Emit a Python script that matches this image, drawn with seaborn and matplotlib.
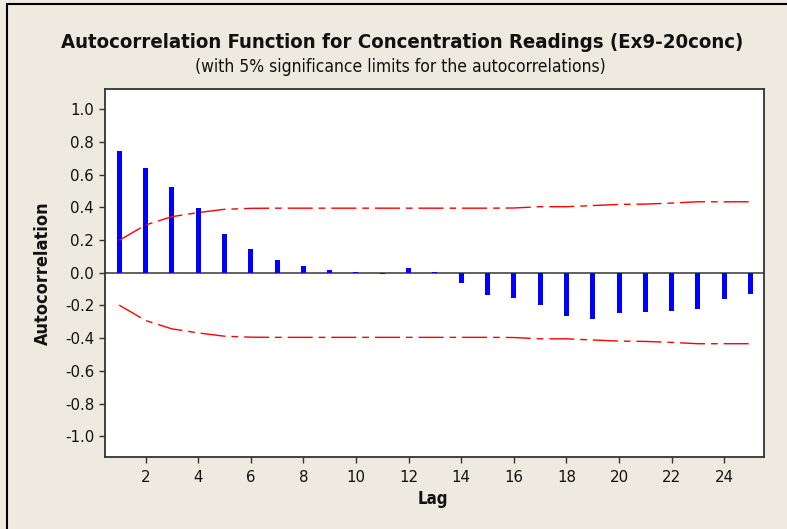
import numpy as np
import pandas as pd
import matplotlib
matplotlib.use("Agg")
import matplotlib.pyplot as plt
import matplotlib.patches as mpatches
import seaborn as sns

# ---- data ----
lags = list(range(1, 26))
acf_values = [0.746, 0.639, 0.522, 0.396, 0.235, 0.143, 0.076, 0.043, 0.017, 0.005,
              -0.010, 0.027, 0.005, -0.063, -0.138, -0.157, -0.200, -0.265, -0.281,
              -0.248, -0.240, -0.232, -0.222, -0.163, -0.130]
upper_limits = [0.198, 0.292, 0.343, 0.368, 0.388, 0.394, 0.395, 0.395, 0.395, 0.395,
                0.395, 0.395, 0.395, 0.395, 0.395, 0.396, 0.404, 0.404, 0.411, 0.418,
                0.420, 0.426, 0.434, 0.434, 0.434]
lower_limits = [-v for v in upper_limits]
y_ticks = [-1.0, -0.8, -0.6, -0.4, -0.2, 0.0, 0.2, 0.4, 0.6, 0.8, 1.0]
x_ticks = [2, 4, 6, 8, 10, 12, 14, 16, 18, 20, 22, 24]

title = "Autocorrelation Function for Concentration Readings (Ex9-20conc)"
subtitle = "(with 5% significance limits for the autocorrelations)"

df = pd.DataFrame({"Lag": lags, "ACF": acf_values})
lim_df = pd.DataFrame({"Lag": lags, "upper": upper_limits, "lower": lower_limits})

sns.set_theme(style="white")
plt.rcParams['font.family'] = ['DejaVu Sans']

BG = "#EEEAE0"
W, H = 787, 529
fig = plt.figure(figsize=(W / 100, H / 100), dpi=100, facecolor=BG)
ax = fig.add_axes([105.3 / W, 1 - 456.7 / H, (763.7 - 105.3) / W, (456.7 - 89.3) / H])
ax.set_facecolor("white")

ax.axhline(0, color="#606060", lw=1.4, zorder=1)

sns.barplot(data=df, x="Lag", y="ACF", native_scale=True, orient="x",
            width=0.19, color="#0000FF", saturation=1, edgecolor="none",
            linewidth=0, ax=ax, zorder=2)

dash = (0, (18, 4.3, 4.8, 4.3))
sns.lineplot(data=lim_df, x="Lag", y="upper", color="#FF0000", lw=1.0,
             linestyle=dash, ax=ax, errorbar=None, zorder=3)
sns.lineplot(data=lim_df, x="Lag", y="lower", color="#FF0000", lw=1.0,
             linestyle=dash, ax=ax, errorbar=None, zorder=3)

ax.set_xlim(0.47, 25.5)
ax.set_ylim(-1.125, 1.122)
ax.set_xticks(x_ticks)
ax.set_xticklabels([str(t) for t in x_ticks])
ax.set_yticks(y_ticks)
ax.set_yticklabels([f"{t:.1f}" for t in y_ticks])
ax.tick_params(axis="both", which="major", direction="out", length=4.5, width=1.0,
               color="#333333", labelsize=10.8, labelcolor="#111111",
               left=True, bottom=True)
ax.tick_params(axis="y", pad=3.5)
ax.tick_params(axis="x", pad=5)
for s in ax.spines.values():
    s.set_color("#333333")
    s.set_linewidth(1.3)
ax.set_xlabel("")
ax.set_ylabel("")

t1 = fig.text(402 / W, 1 - 43 / H, title, ha="center", va="center",
              fontsize=13, fontweight="bold", fontstretch="condensed", color="#111111")
t2 = fig.text(400 / W, 1 - 67 / H, subtitle, ha="center", va="center",
              fontsize=10.5, fontstretch="condensed", color="#111111")
xl = fig.text(433 / W, 1 - 499 / H, "Lag", ha="center", va="center",
              fontsize=11, fontweight="bold", fontstretch="condensed", color="#111111")
yl = fig.text(42.5 / W, 1 - 273 / H, "Autocorrelation", ha="center", va="center",
              rotation=90, fontsize=11, fontweight="bold", fontstretch="condensed",
              color="#111111")

# fit text widths to reference
fig.canvas.draw()
r = fig.canvas.get_renderer()
for t, target, horiz in [(t1, 684, True), (t2, 414, True), (xl, 30.6, True), (yl, 143, False)]:
    bb = t.get_window_extent(r)
    cur = bb.width if horiz else bb.height
    t.set_fontsize(t.get_fontsize() * target / cur)

# figure border (left & top visible)
fig.patches.append(mpatches.Rectangle((7 / W, -0.05), 1.2, 1 - 4 / H + 0.05,
                                      transform=fig.transFigure, fill=False,
                                      edgecolor="black", lw=1.5, clip_on=False))

fig.savefig("out.png", dpi=100, facecolor=BG)
